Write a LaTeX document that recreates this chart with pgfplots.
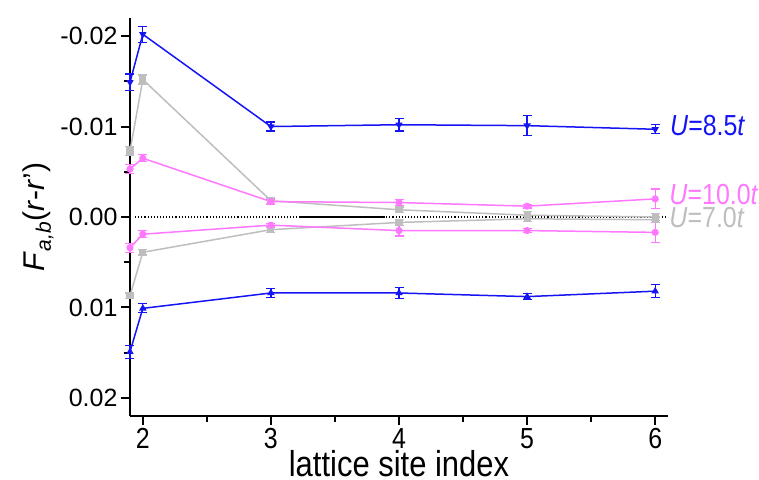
\documentclass[border=0pt]{standalone}
\usepackage{fontspec}
\setmainfont{Liberation Sans}
\newfontfamily\narrowsans{Liberation Sans}[FakeStretch=0.86]
\usepackage{pgfplots}
\pgfplotsset{compat=1.18}

\definecolor{uBlue}{RGB}{20,20,245}
\definecolor{uPink}{RGB}{255,120,255}
\definecolor{uGray}{RGB}{190,190,190}

\pgfplotsset{
  corr/.style={
    color=#1, line width=1.5pt, mark size=2.8pt,
    error bars/.cd, y dir=both, y explicit,
    error bar style={line width=1.2pt, color=#1},
    error mark options={rotate=90, mark size=4.5pt, line width=1.2pt, color=#1},
  },
}
\tikzset{
  ulabel/.style={anchor=west, text=#1, inner sep=0pt,
    font=\narrowsans\fontsize{29}{32}\selectfont},
}

\begin{document}
\begin{tikzpicture}
\useasboundingbox (-130pt,-63pt) rectangle (629pt,416pt);
\begin{axis}[
  at={(0pt,0pt)}, anchor=south west,
  scale only axis, width=538pt, height=398pt,
  xmin=1.9, xmax=6.1, ymin=-0.022, ymax=0.022, y dir=reverse,
  axis x line*=bottom, axis y line*=left,
  axis line style={line width=2.2pt, black},
  tick style={line width=2pt, black},
  major tick length=9pt, minor tick length=6pt,
  tick align=outside,
  scaled y ticks=false,
  xtick={2,3,4,5,6}, xticklabels={2,3,4,5,6},
  ytick={-0.02,-0.01,0,0.01,0.02},
  yticklabels={-0.02,-0.01,0.00,0.01,0.02},
  minor x tick num=1, minor y tick num=1,
  xticklabel style={font=\narrowsans\fontsize{29}{32}\selectfont},
  yticklabel style={font=\fontsize{25}{28}\selectfont},
  xlabel={lattice site index},
  ylabel={\textit{F}\textsubscript{\textit{a,b}}(\textit{r}-\textit{r}')},
  xlabel style={font=\narrowsans\fontsize{36}{38}\selectfont, yshift=6pt},
  ylabel style={font=\fontsize{30}{33}\selectfont},
  clip=false,
]
% zero reference line
\addplot[black, line width=1.1pt, dotted] coordinates {(1.94,0) (6.1,0)};
\addplot[black, line width=1.2pt] coordinates {(3.23,0) (3.89,0)};

% U = 7.0t
\addplot[mark=square*, mark options={solid, fill=uGray}, corr=uGray] coordinates {
  (1.9,-0.0073) +- (0,0.0005) (2,-0.0152) +- (0,0.0005) (3,-0.0018) +- (0,0.0003)
  (4,-0.0008) +- (0,0.0003) (5,-0.0002) +- (0,0.0004) (6,0.0000) +- (0,0.0004)};
\addplot[mark=square*, mark options={solid, fill=uGray}, corr=uGray] coordinates {
  (1.9,0.0087) +- (0,0.0003) (2,0.0039) +- (0,0.0003) (3,0.0014) +- (0,0.0003)
  (4,0.0006) +- (0,0.0003) (5,0.0002) +- (0,0.0003) (6,0.0003) +- (0,0.0003)};

% U = 10.0t
\addplot[mark=*, mark options={solid, fill=uPink}, corr=uPink] coordinates {
  (1.9,-0.0053) +- (0,0.0005) (2,-0.0065) +- (0,0.0004) (3,-0.0017) +- (0,0.0003)
  (4,-0.0016) +- (0,0.0003) (5,-0.0012) +- (0,0.0002) (6,-0.0020) +- (0,0.0011)};
\addplot[mark=*, mark options={solid, fill=uPink}, corr=uPink] coordinates {
  (1.9,0.0034) +- (0,0.0005) (2,0.0019) +- (0,0.0004) (3,0.0009) +- (0,0.0002)
  (4,0.0015) +- (0,0.0006) (5,0.0015) +- (0,0.0002) (6,0.0017) +- (0,0.0011)};

% U = 8.5t
\addplot[mark=triangle*, mark options={solid, fill=uBlue, rotate=180}, corr=uBlue] coordinates {
  (1.9,-0.0149) +- (0,0.0009) (2,-0.0202) +- (0,0.0009) (3,-0.0100) +- (0,0.0005)
  (4,-0.0102) +- (0,0.0007) (5,-0.0101) +- (0,0.0011) (6,-0.0097) +- (0,0.0005)};
\addplot[mark=triangle*, mark options={solid, fill=uBlue}, corr=uBlue] coordinates {
  (1.9,0.0149) +- (0,0.0007) (2,0.0101) +- (0,0.0005) (3,0.0084) +- (0,0.0005)
  (4,0.0084) +- (0,0.0006) (5,0.0088) +- (0,0.0003) (6,0.0082) +- (0,0.0007)};

\node[ulabel=uBlue] at (axis cs:6.115,-0.0101) {\textit{U}=8.5\textit{t}};
\node[ulabel=uPink] at (axis cs:6.11,-0.0025) {\textit{U}=10.0\textit{t}};
\node[ulabel=uGray] at (axis cs:6.11,0.0001) {\textit{U}=7.0\textit{t}};
\end{axis}
\end{tikzpicture}
\end{document}
